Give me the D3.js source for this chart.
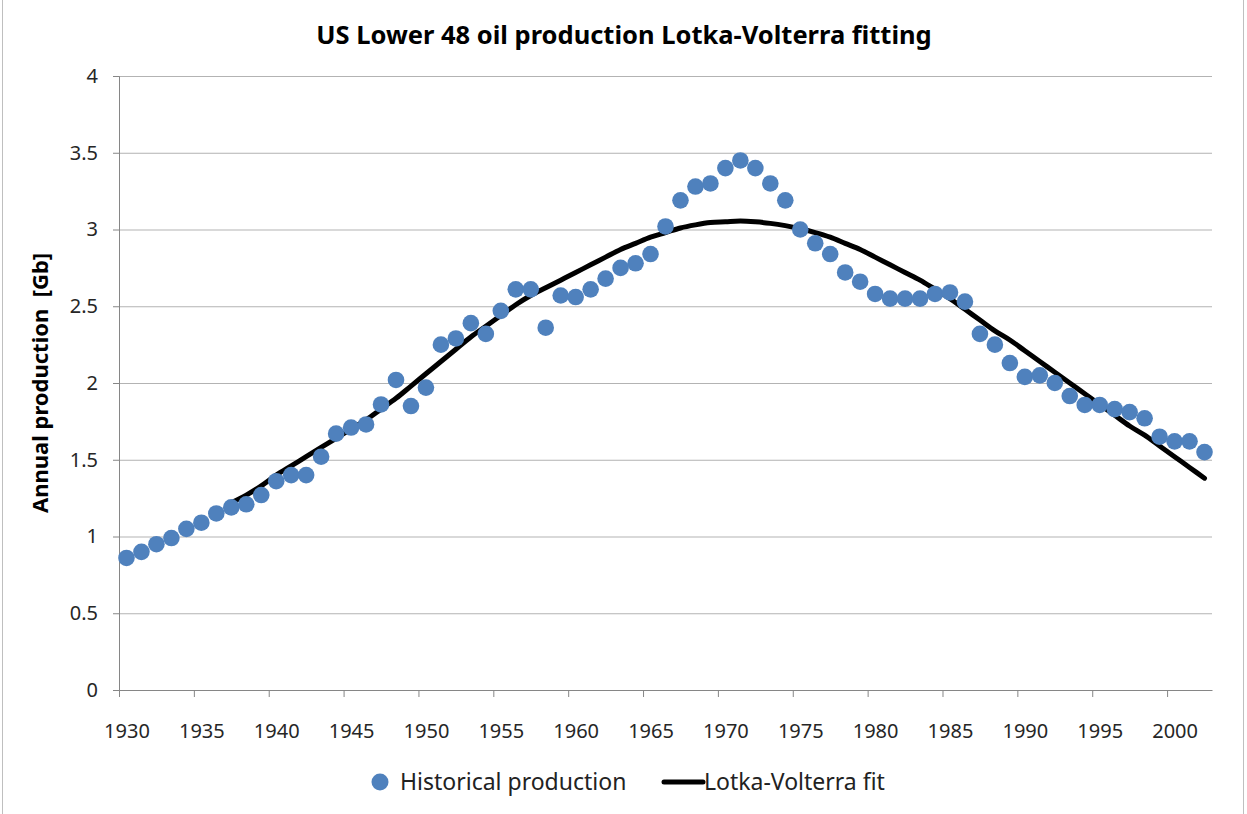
<!DOCTYPE html>
<html lang="en">
<head>
<meta charset="utf-8">
<title>US Lower 48 oil production Lotka-Volterra fitting</title>
<script src="https://d3js.org/d3.v7.min.js"></script>
<style>
    body { margin: 0; background: #fff; }
    svg text { font-family: "Noto Sans", "Open Sans", sans-serif; }
    .axis path, .axis line { stroke: #868686; }
    .axis text { fill: #262626; font-size: 20px; }
    .grid line { stroke: #b3b3b3; }
</style>
</head>
<body>
<svg width="1247" height="814"></svg>
<script>
    // categories (years) and series
    var years = [1930, 1931, 1932, 1933, 1934, 1935, 1936, 1937, 1938, 1939,
        1940, 1941, 1942, 1943, 1944, 1945, 1946, 1947, 1948, 1949,
        1950, 1951, 1952, 1953, 1954, 1955, 1956, 1957, 1958, 1959,
        1960, 1961, 1962, 1963, 1964, 1965, 1966, 1967, 1968, 1969,
        1970, 1971, 1972, 1973, 1974, 1975, 1976, 1977, 1978, 1979,
        1980, 1981, 1982, 1983, 1984, 1985, 1986, 1987, 1988, 1989,
        1990, 1991, 1992, 1993, 1994, 1995, 1996, 1997, 1998, 1999,
        2000, 2001, 2002];

    var historical = [0.86, 0.90, 0.95, 0.99, 1.05, 1.09, 1.15, 1.19, 1.21, 1.27,
        1.36, 1.40, 1.40, 1.52, 1.67, 1.71, 1.73, 1.86, 2.02, 1.85,
        1.97, 2.25, 2.29, 2.39, 2.32, 2.47, 2.61, 2.61, 2.36, 2.57,
        2.56, 2.61, 2.68, 2.75, 2.78, 2.84, 3.02, 3.19, 3.28, 3.30,
        3.40, 3.45, 3.40, 3.30, 3.19, 3.00, 2.91, 2.84, 2.72, 2.66,
        2.58, 2.55, 2.55, 2.55, 2.58, 2.59, 2.53, 2.32, 2.25, 2.13,
        2.04, 2.05, 2.00, 1.915, 1.857, 1.857, 1.83, 1.81, 1.77, 1.65,
        1.62, 1.62, 1.55];

    var fitYears = years.slice(7); // fit starts in 1937
    var fit = [1.22, 1.27, 1.33,
        1.40, 1.46, 1.52, 1.58, 1.64, 1.70, 1.76, 1.83, 1.90, 1.98,
        2.06, 2.14, 2.22, 2.30, 2.37, 2.44, 2.51, 2.57, 2.62, 2.67,
        2.72, 2.77, 2.82, 2.87, 2.91, 2.95, 2.98, 3.01, 3.03, 3.045,
        3.05, 3.055, 3.05, 3.04, 3.025, 3.005, 2.98, 2.95, 2.91, 2.87,
        2.82, 2.77, 2.72, 2.67, 2.61, 2.55, 2.48, 2.41, 2.34, 2.28,
        2.21, 2.14, 2.07, 2.00, 1.93, 1.86, 1.79, 1.72, 1.66, 1.59,
        1.52, 1.45, 1.38];

    var xLabels = [1930, 1935, 1940, 1945, 1950, 1955, 1960, 1965, 1970,
        1975, 1980, 1985, 1990, 1995, 2000];
    var yTicks = [0, 0.5, 1, 1.5, 2, 2.5, 3, 3.5, 4];

    var svg = d3.select("svg"),
        margin = {top: 76, right: 35, bottom: 124, left: 119},
        width = +svg.attr("width") - margin.left - margin.right,
        height = +svg.attr("height") - margin.top - margin.bottom;

    // outer chart frame
    svg.append("rect")
        .attr("x", 2.5).attr("y", -2)
        .attr("width", 1241).attr("height", 820)
        .attr("fill", "none").attr("stroke", "#bfbfbf");

    var g = svg.append("g").attr("transform", "translate(" + margin.left + "," + margin.top + ")");

    var x = d3.scaleLinear().domain([years[0] - 0.5, years[years.length - 1] + 0.5]).range([0, width]),
        y = d3.scaleLinear().domain([0, 4]).range([height, 0]);
    var band = x(1) - x(0);

    // horizontal gridlines
    g.append("g")
        .attr("class", "grid")
        .call(d3.axisLeft(y).tickValues(yTicks.slice(1)).tickSize(-width).tickFormat(""))
        .call(function(s) { s.select(".domain").remove(); });

    // y axis
    g.append("g")
        .attr("class", "axis axis--y")
        .call(d3.axisLeft(y).tickValues(yTicks).tickSize(6).tickPadding(15).tickFormat(d3.format("~g")));

    // x axis: ticks sit on category boundaries, labels on the category
    var xAxis = g.append("g")
        .attr("class", "axis axis--x")
        .attr("transform", "translate(0," + height + ")")
        .call(d3.axisBottom(x).tickValues(xLabels).tickSize(7).tickPadding(27)
            .tickSizeOuter(0).tickFormat(d3.format("d")));
    xAxis.selectAll(".tick line")
        .attr("x1", -band / 2).attr("x2", -band / 2);

    // fit line
    var line = d3.line()
        .curve(d3.curveMonotoneX)
        .x(function(d) { return x(d[0]); })
        .y(function(d) { return y(d[1]); });

    g.append("path")
        .datum(d3.zip(fitYears, fit))
        .attr("fill", "none")
        .attr("stroke", "#000")
        .attr("stroke-width", 5)
        .attr("stroke-linecap", "round")
        .attr("d", line);

    // historical points
    g.selectAll(".dot")
        .data(d3.zip(years, historical))
        .enter().append("circle")
        .attr("class", "dot")
        .attr("cx", function(d) { return x(d[0]); })
        .attr("cy", function(d) { return y(d[1]); })
        .attr("r", 8.3)
        .attr("fill", "#4f81bd");

    // title
    svg.append("text")
        .attr("x", 624).attr("y", 44)
        .attr("text-anchor", "middle")
        .style("font-size", "25.5px").style("font-weight", "bold")
        .text("US Lower 48 oil production Lotka-Volterra fitting");

    // y label
    svg.append("text")
        .attr("transform", "translate(48,383) rotate(-90)")
        .attr("text-anchor", "middle")
        .style("white-space", "pre")
        .style("font-size", "22px").style("font-weight", "bold")
        .text("Annual production  [Gb]");

    // legend
    var legend = svg.append("g").attr("transform", "translate(0,782)");
    legend.append("circle").attr("cx", 380).attr("cy", 0).attr("r", 8.5).attr("fill", "#4f81bd");
    legend.append("text").attr("x", 400).attr("y", 8)
        .style("font-size", "23px").attr("fill", "#222").text("Historical production");
    legend.append("line").attr("x1", 664).attr("x2", 703).attr("y1", 0).attr("y2", 0)
        .attr("stroke", "#000").attr("stroke-width", 5).attr("stroke-linecap", "round");
    legend.append("text").attr("x", 704).attr("y", 8)
        .style("font-size", "23px").attr("fill", "#222").text("Lotka-Volterra fit");
</script>
</body>
</html>
